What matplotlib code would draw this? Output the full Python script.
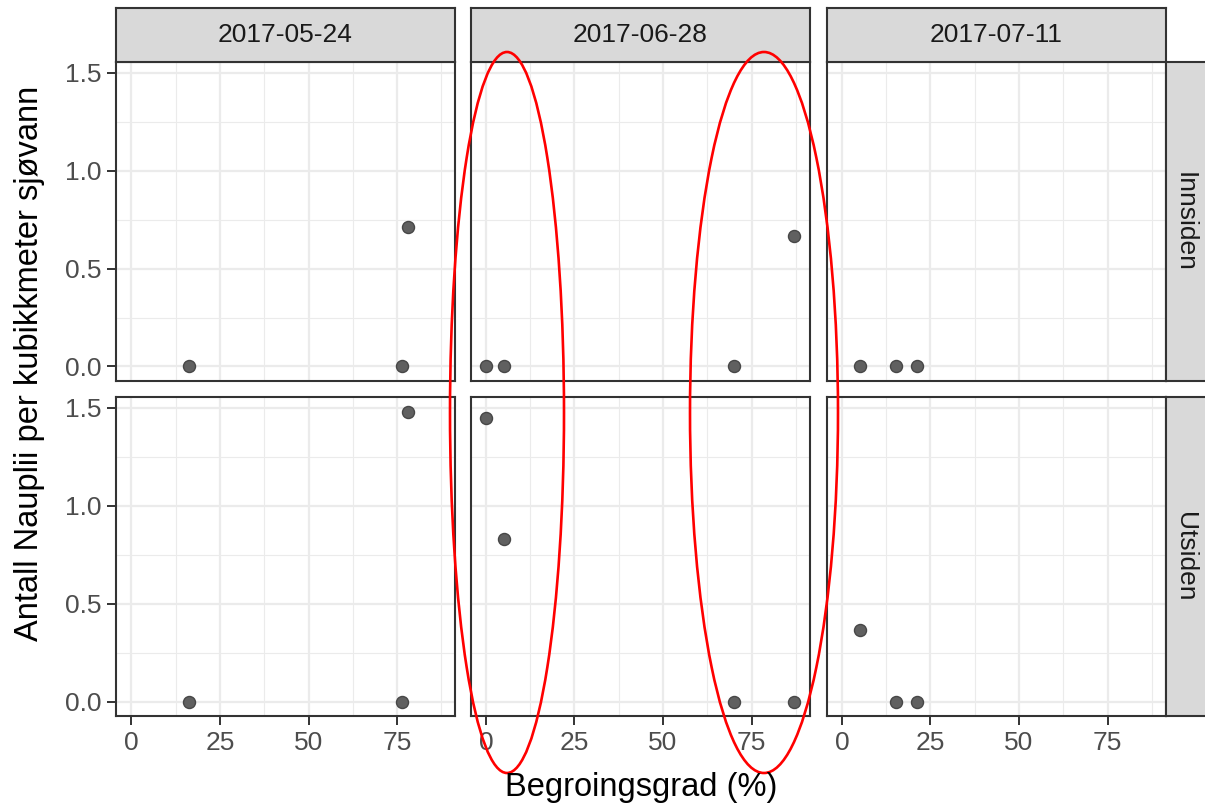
import matplotlib
matplotlib.use("Agg")
import matplotlib.pyplot as plt
from matplotlib.patches import Ellipse
import numpy as np

plt.rcParams['font.family'] = ['Liberation Sans', 'DejaVu Sans']

# Facets
dates = ['2017-05-24', '2017-06-28', '2017-07-11']
sides = ['Innsiden', 'Utsiden']

# Begroingsgrad (%) per date, and nauplii per m3 inside / outside
x_0524 = [16.3, 76.3, 78.2]
inn_0524 = [0.0, 0.0, 0.71]
ut_0524 = [0.0, 0.0, 1.48]

x_0628 = [0.0, 5.0, 70.0, 87.0]
inn_0628 = [0.0, 0.0, 0.0, 0.665]
ut_0628 = [1.445, 0.83, 0.0, 0.0]

x_0711 = [5.0, 15.2, 21.3]
inn_0711 = [0.0, 0.0, 0.0]
ut_0711 = [0.365, 0.0, 0.0]

xs = [x_0524, x_0628, x_0711]
ys = [[inn_0524, inn_0628, inn_0711], [ut_0524, ut_0628, ut_0711]]

x_ticks = [0, 25, 50, 75]
y_ticks = [0.0, 0.5, 1.0, 1.5]

W, H = 1205, 805
fig = plt.figure(figsize=(W / 100, H / 100), dpi=100)


def px_axes(x0, y0, x1, y1, **kw):
    # pixel box (top-left origin) -> figure axes
    return fig.add_axes([x0 / W, 1 - y1 / H, (x1 - x0) / W, (y1 - y0) / H], **kw)


# shared limits with ggplot-like 5% expansion
all_x = np.concatenate([np.array(v) for v in xs])
all_y = np.concatenate([np.array(v) for row in ys for v in row])
xr = all_x.max() - all_x.min()
yr = all_y.max() - all_y.min()
xlim = (all_x.min() - 0.05 * xr, all_x.max() + 0.05 * xr)
ylim = (all_y.min() - 0.05 * yr, all_y.max() + 0.05 * yr)

col_left = [116, 470.5, 826.5]
pw = 339
row_top = [62, 397]
ph = 319
border = '#333333'

for r in range(2):
    for c in range(3):
        x0 = col_left[c]
        y0 = row_top[r]
        ax = px_axes(x0, y0, x0 + pw, y0 + ph)
        ax.set_xlim(xlim)
        ax.set_ylim(ylim)
        ax.set_xticks(x_ticks)
        ax.set_xticks([12.5, 37.5, 62.5, 87.5], minor=True)
        ax.set_yticks(y_ticks)
        ax.set_yticks([0.25, 0.75, 1.25], minor=True)
        ax.grid(which='major', color='#EBEBEB', lw=1.6)
        ax.grid(which='minor', color='#EBEBEB', lw=0.8)
        ax.set_axisbelow(True)
        for s in ax.spines.values():
            s.set_color(border)
            s.set_linewidth(1.5)
        ax.tick_params(which='minor', length=0)
        ax.tick_params(which='major', length=6.5, width=1.4, color=border,
                       labelsize=19, labelcolor='#4D4D4D', pad=4)
        ax.tick_params(axis='x', bottom=(r == 1), labelbottom=(r == 1))
        ax.tick_params(axis='y', left=(c == 0), labelleft=(c == 0))
        ax.yaxis.set_major_formatter(matplotlib.ticker.FormatStrFormatter('%.1f'))
        ax.scatter(xs[c], ys[r][c], s=75, color='#606060', edgecolors='#474747',
                   linewidths=1.0, zorder=3, clip_on=False)

        # top strips
        if r == 0:
            sa = px_axes(x0, 8, x0 + pw, 62)
            sa.set_facecolor('#D9D9D9')
            sa.set_xticks([])
            sa.set_yticks([])
            for s in sa.spines.values():
                s.set_color(border)
                s.set_linewidth(1.5)
            sa.text(0.5, 0.5, dates[c], ha='center', va='center', fontsize=19,
                    color='#1A1A1A', transform=sa.transAxes)

    # right strips
    sa = px_axes(1166, row_top[r], 1222, row_top[r] + ph)
    sa.set_facecolor('#D9D9D9')
    sa.set_xticks([])
    sa.set_yticks([])
    for s in sa.spines.values():
        s.set_color(border)
        s.set_linewidth(1.5)
    sa.text(0.34, 0.5, sides[r], ha='center', va='center', rotation=-90,
            fontsize=19, color='#1A1A1A', transform=sa.transAxes)

fig.text(641 / W, 1 - 787 / H, 'Begroingsgrad (%)', ha='center', va='center',
         fontsize=23.5, color='black')
fig.text(30 / W, 1 - 363 / H, 'Antall Nauplii per kubikkmeter sjøvann',
         ha='center', va='center', rotation=90, fontsize=23.5, color='black')

# red hand-drawn highlight ellipses
ov = fig.add_axes([0, 0, 1, 1], facecolor='none')
ov.set_xlim(0, W)
ov.set_ylim(H, 0)
ov.axis('off')
ov.add_patch(Ellipse((507, 412.5), 114, 721, fill=False, ec='red', lw=1.9))
ov.add_patch(Ellipse((764, 412.5), 148, 721, fill=False, ec='red', lw=1.9))

fig.savefig('out.png', dpi=100)
